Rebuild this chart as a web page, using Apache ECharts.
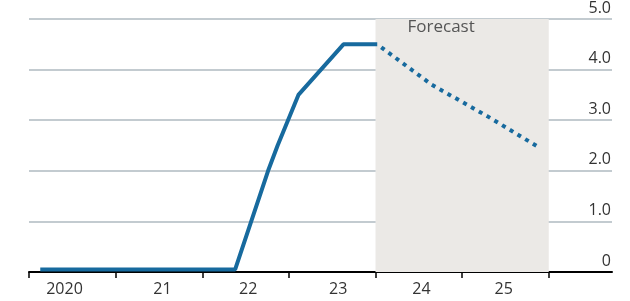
<!DOCTYPE html>
<html>
<head>
<meta charset="utf-8">
<script src="https://cdn.jsdelivr.net/npm/echarts@6/dist/echarts.min.js"></script>
<style>
  html, body { margin: 0; padding: 0; background: #fff; }
  #chart { width: 630px; height: 301px; }
</style>
</head>
<body>
<div id="chart"></div>
<script>
// actual policy rate, %
const actual = [
  [2020.13, 0.05], [2022.38, 0.05], [2022.76, 2.0], [2022.87, 2.5],
  [2023.11, 3.5], [2023.63, 4.5], [2024.02, 4.5]
];
// forecast, %
const forecast = [[2024.02, 4.5], [2024.65, 3.7], [2025.29, 3.08], [2025.87, 2.48]];

const tickYears = [2020, 2021, 2022, 2023, 2024, 2025, 2026];
const labelPos = [2020.41, 2021.54, 2022.53, 2023.57, 2024.53, 2025.48];
const labelText = ['2020', '21', '22', '23', '24', '25'];
const forecastSpan = [2024, 2026];

const font = '"Open Sans", sans-serif';

const chart = echarts.init(document.getElementById('chart'));

const option = {
  animation: false,
  grid: { left: 29, right: 18, top: 14, bottom: 29 },
  xAxis: {
    type: 'value',
    min: 2020,
    max: 2026.73,
    splitLine: { show: false },
    axisLine: { show: true, lineStyle: { color: '#000', width: 2 } },
    axisTick: {
      show: true,
      customValues: tickYears,
      length: 6,
      lineStyle: { color: '#000', width: 1.5 }
    },
    axisLabel: {
      customValues: labelPos,
      formatter: v => labelText[labelPos.indexOf(v)] || '',
      color: '#333',
      fontFamily: font,
      fontSize: 16,
      margin: 9
    }
  },
  yAxis: {
    type: 'value',
    position: 'right',
    min: 0,
    max: 5,
    interval: 1,
    axisLine: { show: false },
    axisTick: { show: false },
    splitLine: { lineStyle: { color: '#afbac1', width: 1.5 } },
    axisLabel: {
      inside: true,
      margin: 1,
      verticalAlign: 'bottom',
      padding: [0, 0, 3, 0],
      color: '#333',
      fontFamily: font,
      fontSize: 16,
      formatter: v => v === 0 ? '0' : v.toFixed(1)
    }
  },
  series: [
    {
      type: 'line',
      data: actual,
      showSymbol: false,
      z: 3,
      lineStyle: { color: '#176a9e', width: 4 },
      markArea: {
        silent: true,
        itemStyle: { color: '#ebe9e6' },
        label: {
          show: true,
          position: [32, 0],
          color: '#555',
          fontFamily: font,
          fontSize: 17
        },
        data: [[{ name: 'Forecast', xAxis: forecastSpan[0], yAxis: 5 }, { xAxis: forecastSpan[1], yAxis: 0 }]]
      }
    },
    {
      type: 'line',
      data: forecast,
      showSymbol: false,
      z: 3,
      lineStyle: { color: '#176a9e', width: 4, type: [4, 5], dashOffset: -5 }
    }
  ]
};

chart.setOption(option);
</script>
</body>
</html>
